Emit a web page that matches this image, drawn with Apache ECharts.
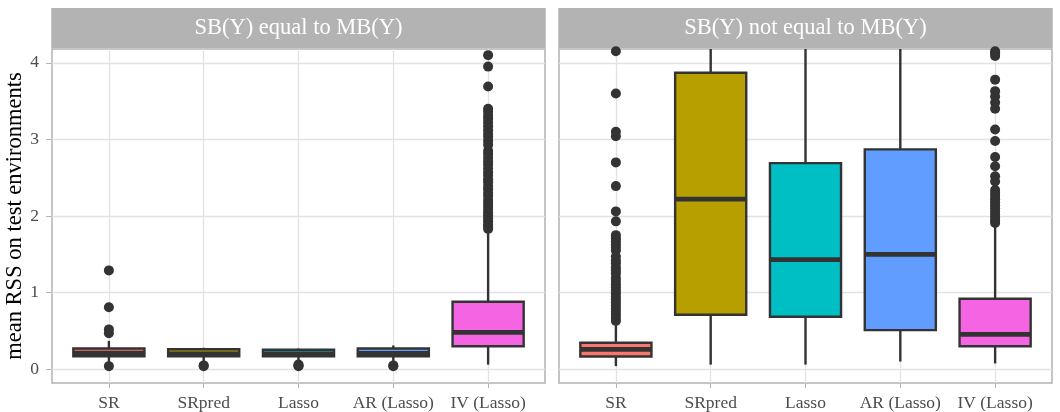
<!DOCTYPE html>
<html>
<head>
<meta charset="utf-8">
<title>mean RSS on test environments</title>
<script src="https://cdn.jsdelivr.net/npm/echarts@6/dist/echarts.min.js"></script>
<style>
  html, body { margin: 0; padding: 0; background: #ffffff; }
  #main { width: 1060px; height: 412px; }
</style>
</head>
<body>
<div id="main"></div>
<script>
// Methods shown on the x axis of each facet
const categories = ['SR', 'SRpred', 'Lasso', 'AR (Lasso)', 'IV (Lasso)'];
// Facet strip titles
const facets = ['SB(Y) equal to MB(Y)', 'SB(Y) not equal to MB(Y)'];
// Y axis ticks
const yTicks = [0, 1, 2, 3, 4];
// Fill colour per method
const methodColors = ['#F8766D', '#B79F00', '#00BFC4', '#619CFF', '#F564E3'];

// Box statistics per method: [lower whisker, Q1, median, Q3, upper whisker]
const statsEqual = [
  [0.09, 0.17, 0.21, 0.27, 0.37],
  [0.10, 0.17, 0.20, 0.26, 0.28],
  [0.10, 0.17, 0.20, 0.255, 0.27],
  [0.10, 0.17, 0.205, 0.27, 0.31],
  [0.06, 0.30, 0.48, 0.88, 1.77]
];
const statsNotEqual = [
  [0.04, 0.166, 0.258, 0.345, 0.57],
  [0.06, 0.71, 2.22, 3.87, 7.8],
  [0.06, 0.685, 1.43, 2.69, 5.6],
  [0.10, 0.51, 1.50, 2.87, 6.3],
  [0.075, 0.30, 0.454, 0.92, 1.86]
];

// Outlying values per method
const outliersEqual = [
  [1.29, 0.81, 0.52, 0.47, 0.04],
  [0.04, 0.05],
  [0.04, 0.05, 0.06],
  [0.04, 0.05],
  [4.10, 3.95, 3.69, 3.40, 3.36, 3.31, 3.27, 3.22, 3.17, 3.12, 3.07, 3.03, 2.98, 2.93,
   2.85, 2.81, 2.76, 2.71, 2.67, 2.62, 2.57, 2.53, 2.48, 2.44, 2.39, 2.35, 2.30, 2.26,
   2.21, 2.17, 2.13, 2.09, 2.05, 2.01, 1.97, 1.93, 1.89, 1.86, 1.83]
];
const outliersNotEqual = [
  [4.15, 3.60, 3.10, 3.04, 2.70, 2.39, 2.06, 1.93, 1.75, 1.71, 1.67, 1.63, 1.59, 1.55,
   1.47, 1.42, 1.38, 1.33, 1.29, 1.25, 1.19, 1.15, 1.11, 1.07, 1.03, 0.99, 0.95, 0.91,
   0.87, 0.83, 0.79, 0.75, 0.71, 0.67, 0.63],
  [],
  [],
  [],
  [4.15, 4.12, 4.09, 3.78, 3.63, 3.56, 3.48, 3.40, 3.13, 2.98, 2.77, 2.65, 2.52, 2.45,
   2.34, 2.30, 2.26, 2.22, 2.18, 2.14, 2.10, 2.06, 2.02, 1.98, 1.94, 1.91]
];

const panelStats = [statsEqual, statsNotEqual];
const panelOutliers = [outliersEqual, outliersNotEqual];

// Layout
const FONT = '"Liberation Serif", "DejaVu Serif", serif';
const PANEL_TOP = 49;
const PANEL_HEIGHT = 334;
const PANEL_WIDTH = 493;
const PANEL_LEFTS = [52, 559];
const STRIP_TOP = 8;
const STRIP_HEIGHT = 40;
const BOX_WIDTH = 0.75;
const INK = '#333333';
const tickIdx = categories.map((_, i) => i);

const chart = echarts.init(document.getElementById('main'));

const grids = PANEL_LEFTS.map(left => ({
  left: left, top: PANEL_TOP, width: PANEL_WIDTH, height: PANEL_HEIGHT,
  show: true, backgroundColor: '#ffffff', borderColor: '#b3b3b3', borderWidth: 1.5,
  containLabel: false
}));

const xAxes = PANEL_LEFTS.map((_, i) => ({
  type: 'value', gridIndex: i, min: -0.6, max: 4.6, position: 'bottom',
  axisLine: { show: false, onZero: false },
  axisTick: { show: true, customValues: tickIdx, length: 5, lineStyle: { color: '#b3b3b3', width: 1 } },
  axisLabel: {
    customValues: tickIdx, margin: 11, color: '#4d4d4d', fontFamily: FONT, fontSize: 17.5,
    formatter: v => categories[Math.round(v)]
  },
  splitLine: { show: true, lineStyle: { color: '#e2e2e2', width: 1.3 } }
}));

const yAxes = PANEL_LEFTS.map((_, i) => ({
  type: 'value', gridIndex: i, min: -0.18, max: 4.18, position: 'left',
  axisLine: { show: false, onZero: false },
  axisTick: { show: i === 0, customValues: yTicks, length: 6, lineStyle: { color: '#b3b3b3', width: 1 } },
  axisLabel: { show: i === 0, customValues: yTicks, margin: 13, color: '#4d4d4d', fontFamily: FONT, fontSize: 17.5 },
  splitLine: { show: true, lineStyle: { color: '#e2e2e2', width: 1.3 } },
  name: i === 0 ? 'mean RSS on test environments' : '',
  nameLocation: 'middle', nameGap: 24,
  nameTextStyle: { color: '#000000', fontFamily: FONT, fontSize: 22.5 }
}));

function renderBox(params, api) {
  const x = api.value(0);
  const low = api.coord([x, api.value(1)]);
  const q1 = api.coord([x, api.value(2)]);
  const med = api.coord([x, api.value(3)]);
  const q3 = api.coord([x, api.value(4)]);
  const high = api.coord([x, api.value(5)]);
  const half = api.size([BOX_WIDTH, 0])[0] / 2;
  const cx = q1[0];
  const color = methodColors[api.value(0)];
  const lw = 2.4;
  return {
    type: 'group',
    children: [
      { type: 'line', shape: { x1: cx, y1: q3[1], x2: cx, y2: high[1] }, style: { stroke: INK, lineWidth: lw } },
      { type: 'line', shape: { x1: cx, y1: q1[1], x2: cx, y2: low[1] }, style: { stroke: INK, lineWidth: lw } },
      { type: 'rect', shape: { x: cx - half, y: q3[1], width: half * 2, height: q1[1] - q3[1] },
        style: { fill: color, stroke: INK, lineWidth: lw } },
      { type: 'line', shape: { x1: cx - half, y1: med[1], x2: cx + half, y2: med[1] },
        style: { stroke: INK, lineWidth: lw * 2 } }
    ]
  };
}

const series = [];
panelStats.forEach((stats, p) => {
  series.push({
    type: 'custom', xAxisIndex: p, yAxisIndex: p, clip: true, silent: true,
    renderItem: renderBox,
    encode: { x: 0, y: [1, 2, 3, 4, 5] },
    data: stats.map((s, j) => [j].concat(s)),
    z: 2
  });
  const pts = [];
  panelOutliers[p].forEach((vals, j) => vals.forEach(v => pts.push([j, v])));
  series.push({
    type: 'scatter', xAxisIndex: p, yAxisIndex: p, clip: true, silent: true,
    symbol: 'circle', symbolSize: 10,
    itemStyle: { color: INK, opacity: 1 },
    data: pts,
    z: 3
  });
});

// Facet strips above each panel
const graphic = facets.map((title, i) => ({
  type: 'group',
  children: [
    { type: 'rect', shape: { x: PANEL_LEFTS[i] - 0.75, y: STRIP_TOP, width: PANEL_WIDTH + 1.5, height: STRIP_HEIGHT },
      style: { fill: '#b3b3b3' } },
    { type: 'text', style: {
        x: PANEL_LEFTS[i] + PANEL_WIDTH / 2, y: STRIP_TOP + STRIP_HEIGHT / 2 + 0.5,
        text: title, fill: '#ffffff', align: 'center', verticalAlign: 'middle',
        fontFamily: FONT, fontSize: 22.5 } }
  ]
}));

chart.setOption({
  animation: false,
  backgroundColor: '#ffffff',
  grid: grids,
  xAxis: xAxes,
  yAxis: yAxes,
  series: series,
  graphic: graphic
});
</script>
</body>
</html>
